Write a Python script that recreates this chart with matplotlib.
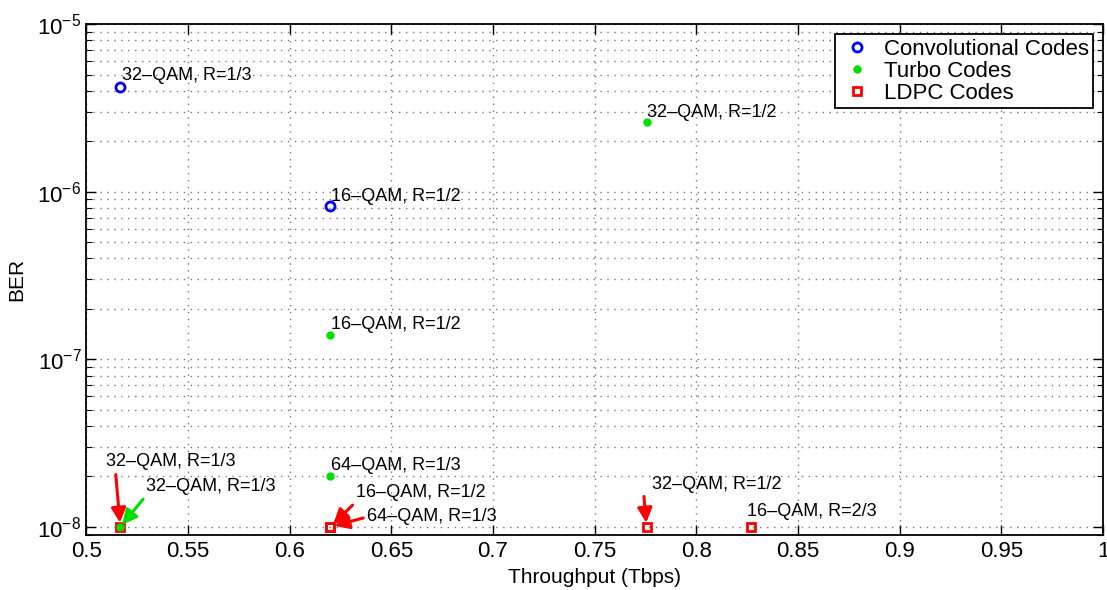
import matplotlib
matplotlib.use('Agg')
import matplotlib.pyplot as plt
from matplotlib.ticker import LogLocator, MultipleLocator, NullFormatter

plt.rcParams['font.family'] = ['Liberation Sans', 'DejaVu Sans']

# data
conv_x = [0.5167, 0.62]
conv_ber = [4.2e-6, 8.2e-7]
conv_lab = ['32\u2013QAM, R=1/3', '16\u2013QAM, R=1/2']

turbo_x = [0.5167, 0.62, 0.62, 0.7755]
turbo_ber = [1e-8, 2e-8, 1.4e-7, 2.62e-6]
turbo_lab = ['32\u2013QAM, R=1/3', '64\u2013QAM, R=1/3', '16\u2013QAM, R=1/2', '32\u2013QAM, R=1/2']

ldpc_x = [0.5167, 0.62, 0.62, 0.7755, 0.8267]
ldpc_ber = [1e-8, 1e-8, 1e-8, 1e-8, 1e-8]
ldpc_lab = ['32\u2013QAM, R=1/3', '16\u2013QAM, R=1/2', '64\u2013QAM, R=1/3',
            '32\u2013QAM, R=1/2', '16\u2013QAM, R=2/3']

fig = plt.figure(figsize=(11.07, 5.9), dpi=100)
ax = fig.add_axes([0.078, 0.094, 0.9185, 0.865])

ax.plot(conv_x, conv_ber, 'o', color='blue', mfc='none', mew=2, ms=6.5,
        label='Convolutional Codes', zorder=3)
ax.plot(turbo_x, turbo_ber, 'o', color='#00e000', mec='#00e000', ms=5,
        label='Turbo Codes', zorder=3)
ax.plot(ldpc_x, ldpc_ber, 's', color='red', mfc='none', mew=2, ms=6,
        label='LDPC Codes', zorder=2)

ax.set_yscale('log')
ax.set_xlim(0.5, 1.0)
ax.set_ylim(9e-9, 1e-5)
ax.xaxis.set_major_locator(MultipleLocator(0.05))
ax.xaxis.set_major_formatter(plt.FuncFormatter(lambda v, p: ('%g' % round(v, 2))))
ax.yaxis.set_major_locator(LogLocator(base=10))
ax.yaxis.set_minor_locator(LogLocator(base=10, subs=range(2, 10)))
ax.yaxis.set_minor_formatter(NullFormatter())

dots = (0, (1, 4))
ax.grid(True, which='major', linestyle=dots, color='#777777', lw=1)
ax.grid(True, which='minor', axis='y', linestyle=dots, color='#777777', lw=1)
ax.tick_params(which='both', direction='in', top=True, right=True, labelsize=16)
ax.tick_params(axis='x', pad=5)
ax.tick_params(which='major', length=7, width=1)
ax.tick_params(which='minor', length=4, width=0.8)
for s in ax.spines.values():
    s.set_linewidth(1.3)

ax.set_xlabel('Throughput (Tbps)', fontsize=15, labelpad=4)
ax.set_ylabel('BER', fontsize=15, labelpad=8)

tfs = 13
# plain labels
conv_off = [(2, 12), (1, 10)]
for x, y, t, o in zip(conv_x, conv_ber, conv_lab, conv_off):
    ax.annotate(t, (x, y), xytext=o, textcoords='offset pixels',
                ha='left', va='center', fontsize=tfs)

turbo_off = [(26, 40), (1, 11), (1, 10), (0, 9)]
for i, (x, y, t, o) in enumerate(zip(turbo_x, turbo_ber, turbo_lab, turbo_off)):
    if i == 0:
        ax.annotate(t, (x, y), xytext=o, textcoords='offset pixels',
                    ha='left', va='center', fontsize=tfs,
                    arrowprops=dict(arrowstyle='-|>', color='#00e000', lw=2.2,
                                    mutation_scale=22, shrinkA=1, shrinkB=2,
                                    relpos=(0.0, 0.0)))
    else:
        ax.annotate(t, (x, y), xytext=o, textcoords='offset pixels',
                    ha='left', va='center', fontsize=tfs)

ldpc_off = [(-14, 65), (26, 34), (37, 10), (5, 42), (-4, 15)]
ldpc_rel = [(0.07, 0.0), (0.0, 0.0), (0.0, 0.5), (-0.06, -0.1), None]
for x, y, t, o, r in zip(ldpc_x, ldpc_ber, ldpc_lab, ldpc_off, ldpc_rel):
    if r is None:
        ax.annotate(t, (x, y), xytext=o, textcoords='offset pixels',
                    ha='left', va='center', fontsize=tfs)
    else:
        ax.annotate(t, (x, y), xytext=o, textcoords='offset pixels',
                    ha='left', va='center', fontsize=tfs,
                    arrowprops=dict(arrowstyle='-|>', color='red', lw=2.2,
                                    mutation_scale=22, shrinkA=1, shrinkB=3,
                                    relpos=r))

leg = ax.legend(loc='upper right', fontsize=16, frameon=True, fancybox=False,
                edgecolor='black', framealpha=1, borderpad=0.2,
                labelspacing=0.05, handletextpad=0.4, borderaxespad=0.45,
                handlelength=1.6)
leg.get_frame().set_linewidth(1.3)

fig.savefig('out.png', dpi=100)
